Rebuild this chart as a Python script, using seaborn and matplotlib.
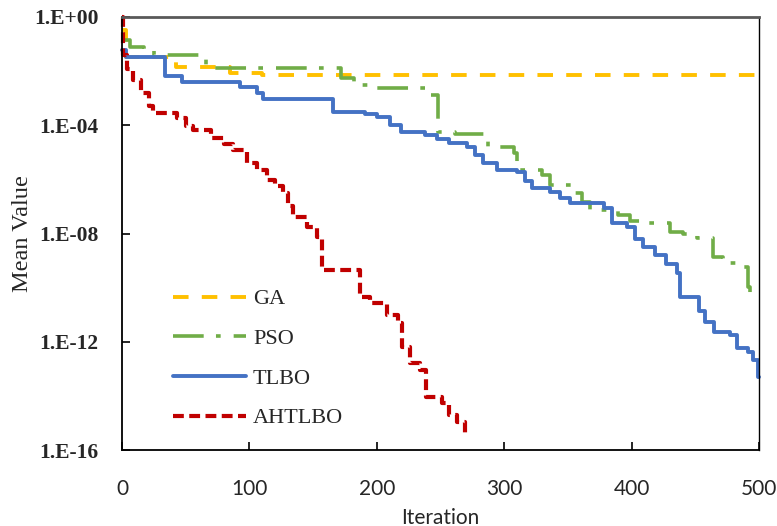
import numpy as np
import pandas as pd
import matplotlib
matplotlib.use("Agg")
import matplotlib.pyplot as plt
from matplotlib.lines import Line2D
import matplotlib.ticker as mticker
import seaborn as sns

# Best mean value found so far; each value holds from its iteration until the next one
algorithms = ["GA", "PSO", "TLBO", "AHTLBO"]

ga_iter = [0, 3, 42, 85, 110, 500]
ga_value = [0.32, 0.033, 0.014, 0.0085, 0.0072, 0.0072]

pso_iter = [0, 6, 17, 25, 66, 172, 182, 200, 242, 248, 261, 287, 308, 310, 330,
            336, 354, 361, 367, 389, 399, 409, 430, 440, 451, 464, 472, 483, 491, 493]
pso_value = [0.14, 0.078, 0.06, 0.04, 0.013, 0.0056, 0.0031, 0.0024, 0.0013, 5.6e-5,
             4.6e-5, 1.6e-5, 9.3e-6, 2.2e-6, 1.45e-6, 6.2e-7, 3.2e-7, 1.45e-7, 7.4e-8,
             4.8e-8, 2.9e-8, 2.5e-8, 1.1e-8, 9.5e-9, 6.8e-9, 1.35e-9, 8.1e-10, 5.8e-10,
             1.05e-10, 2.7e-11]

tlbo_iter = [0, 3, 34, 47, 93, 106, 111, 166, 191, 200, 210, 219, 238, 247, 257, 271,
             277, 283, 294, 310, 316, 322, 336, 344, 352, 378, 385, 396, 403, 409, 418,
             427, 436, 438, 453, 458, 465, 477, 483, 491, 495, 499, 500]
tlbo_value = [0.06, 0.033, 0.0066, 0.004, 0.0026, 0.0016, 9.3e-4, 3.1e-4, 2.6e-4, 2.0e-4,
              1.0e-4, 5.6e-5, 4.3e-5, 3.2e-5, 2.2e-5, 1.6e-5, 8.0e-6, 4.0e-6, 2.2e-6,
              1.9e-6, 9.0e-7, 4.8e-7, 3.4e-7, 2.0e-7, 1.35e-7, 8.7e-8, 2.5e-8, 1.7e-8,
              6.5e-9, 3.2e-9, 1.6e-9, 7.5e-10, 3.5e-10, 4.5e-11, 1.4e-11, 5.4e-12,
              2.3e-12, 1.8e-12, 5.9e-13, 4.2e-13, 2.1e-13, 5.0e-14, 5.0e-14]

ahtlbo_iter = [0, 1, 4, 9, 15, 21, 24, 43, 50, 56, 70, 80, 87, 98, 106, 114, 120, 126,
               130, 134, 145, 153, 157, 187, 195, 208, 217, 220, 226, 234, 239, 251,
               257, 263, 269]
ahtlbo_value = [1.0, 0.04, 0.012, 0.0047, 1.5e-3, 5.0e-4, 2.8e-4, 1.9e-4, 9.5e-5, 6.6e-5,
                3.5e-5, 2.1e-5, 1.2e-5, 4.0e-6, 2.2e-6, 9.5e-7, 5.5e-7, 3.2e-7, 1.0e-7,
                4.1e-8, 1.8e-8, 7.4e-9, 4.5e-10, 4.5e-11, 2.7e-11, 9.8e-12, 4.9e-12,
                6.3e-13, 1.6e-13, 8.9e-14, 9.1e-15, 5.5e-15, 1.9e-15, 1.1e-15, 3.5e-16]

x_ticks = [0, 100, 200, 300, 400, 500]
y_ticks = [1e0, 1e-4, 1e-8, 1e-12, 1e-16]

colors = {"GA": "#FFC000", "PSO": "#70AD47", "TLBO": "#4472C4", "AHTLBO": "#C00000"}
dashes = {"GA": (4.0, 3.4), "PSO": (8.5, 3.4, 1.3, 3.6), "TLBO": "", "AHTLBO": (2.6, 1.3)}
widths = {"GA": 2.8, "PSO": 2.6, "TLBO": 2.8, "AHTLBO": 3.0}

series = {
    "GA": (ga_iter, ga_value),
    "PSO": (pso_iter, pso_value),
    "TLBO": (tlbo_iter, tlbo_value),
    "AHTLBO": (ahtlbo_iter, ahtlbo_value),
}
df = pd.concat(
    [pd.DataFrame({"Iteration": it, "Mean Value": val, "Algorithm": name})
     for name, (it, val) in series.items()],
    ignore_index=True,
)

sns.set_style("ticks")
serif = ["Liberation Serif", "DejaVu Serif"]
sans = ["Lato", "DejaVu Sans"]

fig = plt.figure(figsize=(7.77, 5.26), dpi=100)
ax = fig.add_axes([122 / 777, 1 - 450 / 526, 637 / 777, 433 / 526])

sns.lineplot(data=df, x="Iteration", y="Mean Value", hue="Algorithm", style="Algorithm",
             hue_order=algorithms, style_order=algorithms, palette=colors, dashes=dashes,
             estimator=None, sort=False, drawstyle="steps-post", linewidth=2.8,
             legend=False, ax=ax)
for line, name in zip(ax.lines, algorithms):
    line.set_linewidth(widths[name])
    line.set_clip_on(False)

ax.set_yscale("log")
ax.set_ylim(1e-16, 1)
ax.set_xlim(0, 500)
ax.set_xticks(x_ticks)
ax.set_yticks(y_ticks)
ax.yaxis.set_minor_locator(mticker.NullLocator())
ax.yaxis.set_major_formatter(
    mticker.FuncFormatter(lambda v, pos: "1.E%+03d" % int(round(np.log10(v)))))

ax.tick_params(axis="both", which="major", direction="in", length=6, width=1.2, color="black")
ax.tick_params(axis="y", pad=17)
ax.tick_params(axis="x", pad=21)
for lab in ax.get_yticklabels():
    lab.set_fontfamily(serif)
    lab.set_fontweight("bold")
    lab.set_fontsize(15.5)
for lab in ax.get_xticklabels():
    lab.set_fontfamily(sans)
    lab.set_fontsize(15)

ax.set_ylabel("Mean Value", fontfamily=serif, fontsize=17.5, labelpad=1)
ax.set_xlabel("Iteration", fontfamily=sans, fontsize=15, labelpad=6)

for side in ["left", "bottom", "right"]:
    ax.spines[side].set_color("black")
    ax.spines[side].set_linewidth(1.3)
ax.spines["right"].set_linewidth(1.0)
ax.spines["top"].set_color("#595959")
ax.spines["top"].set_linewidth(2.0)

handles = [Line2D([], [], color=colors[n], linewidth=widths[n],
                  linestyle="-" if dashes[n] == "" else (0, dashes[n]))
           for n in algorithms]
ax.legend(handles, algorithms, loc="upper left", bbox_to_anchor=(0.08, 0.372),
          frameon=False, borderpad=0, borderaxespad=0, handlelength=3.3,
          handletextpad=0.3, labelspacing=0.86,
          prop={"family": serif, "size": 16})

fig.savefig("out.png", dpi=100, facecolor="white")
